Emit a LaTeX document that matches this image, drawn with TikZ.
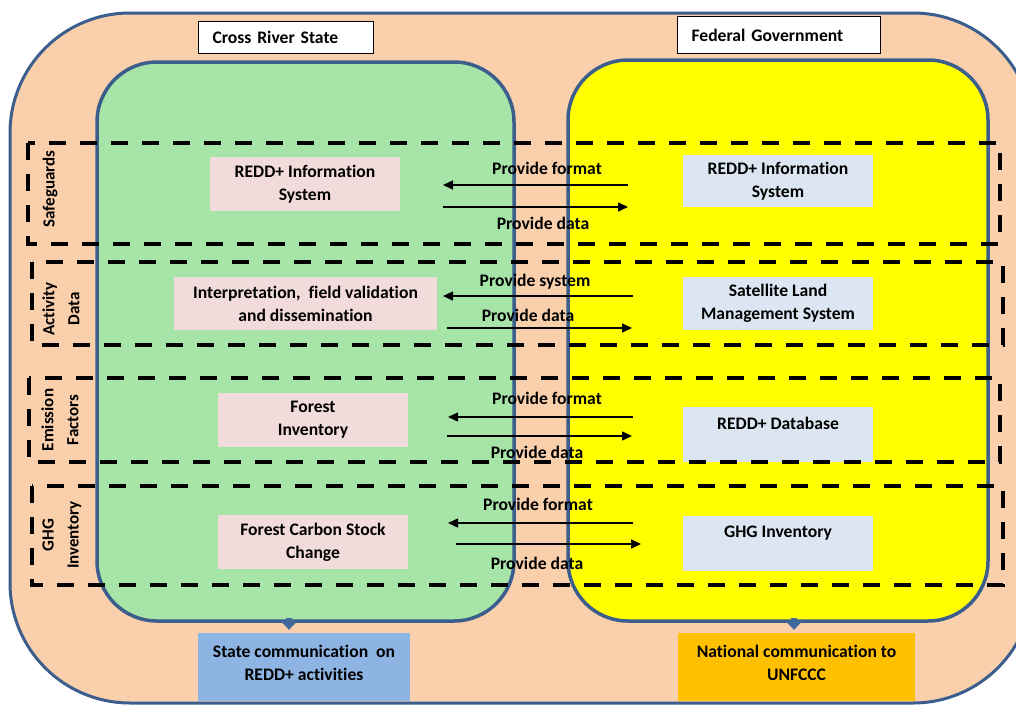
\documentclass[tikz,border=0pt]{standalone}
\usepackage{fontspec}
\setmainfont{Carlito}[Ligatures={NoCommon}]
\usetikzlibrary{arrows.meta}
\definecolor{peach}{RGB}{250,207,172}
\definecolor{greenbg}{RGB}{166,228,168}
\definecolor{yellowbg}{RGB}{255,255,0}
\definecolor{bordblue}{RGB}{59,94,140}
\definecolor{pinkbox}{RGB}{242,220,219}
\definecolor{bluebox}{RGB}{220,230,242}
\definecolor{statebox}{RGB}{142,180,227}
\definecolor{natbox}{RGB}{255,192,0}
\definecolor{downblue}{RGB}{65,105,155}
\begin{document}
\begin{tikzpicture}[x=1pt,y=-1pt,
  font=\fontsize{17.6}{23}\selectfont\bfseries,
  frame/.style={draw=bordblue, line width=3.5pt},
  hdr/.style={draw=black, fill=white, line width=1.2pt, inner xsep=14pt, inner ysep=0pt, align=left, anchor=north west},
  lbox/.style={fill=pinkbox, align=center, inner sep=0pt},
  rbox/.style={fill=bluebox, align=center, inner sep=0pt},
  rowbox/.style={draw=black, line width=4.5pt, dash pattern=on 17pt off 14pt},
  flow/.style={-{Triangle[length=10pt,width=9pt]}, line width=1.4pt},
  lab/.style={inner sep=0pt},
  side/.style={rotate=90, align=center, inner sep=0pt, font=\fontsize{17}{25}\selectfont\bfseries},
  down/.style={-{Triangle[length=9pt,width=17pt]}, draw=downblue, fill=downblue, line width=6pt},
  outbox/.style={minimum height=68pt, align=center, inner sep=0pt},
]
\useasboundingbox (0,0) rectangle (1016,704);
% outer frame
\path[fill=peach, draw=bordblue, line width=3pt, rounded corners=120pt] (10,13) rectangle (1033,703);
% headers
\node[hdr, minimum height=32pt, text width=147pt] (crs) at (198,21) {Cross River State};
\node[hdr, minimum height=37pt, text width=175pt] (fed) at (677,16) {Federal Government};
% green and yellow areas
\node[frame, fill=greenbg, rounded corners=60pt, minimum width=417pt, minimum height=559pt, inner sep=0pt] (green) at (305.5,341.5) {};
\node[frame, fill=yellowbg, rounded corners=60pt, minimum width=420pt, minimum height=561pt, inner sep=0pt] (yellow) at (778,340.5) {};
% inner boxes
\node[lbox, minimum width=190pt, minimum height=54pt] (l1) at (305,184) {REDD+ Information\\System};
\node[rbox, minimum width=190pt, minimum height=52pt] (r1) at (778,181) {REDD+ Information\\System};
\node[lbox, minimum width=263pt, minimum height=53pt] (l2) at (305.5,303.5) {Interpretation,\ \ field validation\\and dissemination};
\node[rbox, minimum width=190pt, minimum height=53pt] (r2) at (778,303.5) {Satellite Land\\Management System};
\node[lbox, minimum width=190pt, minimum height=54pt] (l3) at (313,420) {Forest\\Inventory};
\node[rbox, minimum width=190pt, minimum height=55pt] (r3) at (778,434.5) {REDD+ Database\\\mbox{}};
\node[lbox, minimum width=190pt, minimum height=54pt] (l4) at (313,542) {Forest Carbon Stock\\Change};
\node[rbox, minimum width=190pt, minimum height=55pt] (r4) at (778,543.5) {GHG Inventory\\\mbox{}};
% dashed rows
\draw[rowbox] (28,143) rectangle (1000,244);
\draw[rowbox] (32,262) rectangle (1003,345);
\draw[rowbox] (29,378) rectangle (1000,462);
\draw[rowbox] (32,486) rectangle (1003,585);
% side labels
\node[side] (s1) at (50,189) {Safeguards};
\node[side] (s2) at (61,309) {Activity\\Data};
\node[side] (s3) at (60,420) {Emission\\Factors};
\node[side] (s4) at (62,535) {GHG\\Inventory};
% arrows row 1
\coordinate (a1) at (628,185); \coordinate (a1e) at (443,185);
\coordinate (b1) at (443,207); \coordinate (b1e) at (628,207);
\draw[flow] (a1) -- (a1e);
\draw[flow] (b1) -- (b1e);
\node[lab] (p1) at (547,168) {Provide format};
\node[lab] (q1) at (543,223) {Provide data};
% row 2
\coordinate (a2) at (633,296); \coordinate (a2e) at (443,296);
\coordinate (b2) at (447,328); \coordinate (b2e) at (632,328);
\draw[flow] (a2) -- (a2e);
\draw[flow] (b2) -- (b2e);
\node[lab] (p2) at (535,282) {Provide system};
\node[lab] (q2) at (528,315) {Provide data};
% row 3
\coordinate (a3) at (633,417); \coordinate (a3e) at (448,417);
\coordinate (b3) at (447,436); \coordinate (b3e) at (632,436);
\draw[flow] (a3) -- (a3e);
\draw[flow] (b3) -- (b3e);
\node[lab] (p3) at (547,398) {Provide format};
\node[lab] (q3) at (537,452) {Provide data};
% row 4
\coordinate (a4) at (633,523); \coordinate (a4e) at (448,523);
\coordinate (b4) at (456,544); \coordinate (b4e) at (641,544);
\draw[flow] (a4) -- (a4e);
\draw[flow] (b4) -- (b4e);
\node[lab] (p4) at (538,504) {Provide format};
\node[lab] (q4) at (537,563) {Provide data};
% bottom boxes
\node[outbox, fill=statebox, minimum width=212pt] (state) at (304,667) {State communication\ \ on\\REDD+ activities\\[-14pt]\mbox{}};
\node[outbox, fill=natbox, minimum width=237pt] (nat) at (796.5,667) {National communication to\\UNFCCC\\[-14pt]\mbox{}};
\coordinate (d1) at (289,618);
\coordinate (d2) at (794,618);
\draw[down] (d1) -- ([yshift=3pt]d1 |- state.north);
\draw[down] (d2) -- ([yshift=3pt]d2 |- nat.north);
\end{tikzpicture}
\end{document}
